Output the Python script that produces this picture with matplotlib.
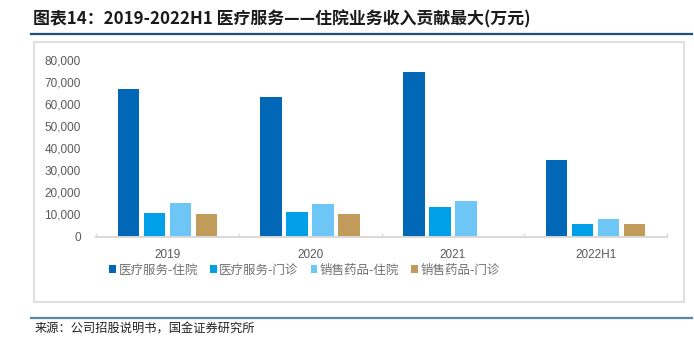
import numpy as np
import matplotlib
matplotlib.use("Agg")
import matplotlib.pyplot as plt
from matplotlib.lines import Line2D
from matplotlib.patches import Rectangle
from matplotlib.ticker import FuncFormatter

plt.rcParams["font.family"] = ["Liberation Sans", "Noto Sans CJK SC", "DejaVu Sans"]

# data (万元)
years = ["2019", "2020", "2021", "2022H1"]
series_names = ["医疗服务-住院", "医疗服务-门诊", "销售药品-住院", "销售药品-门诊"]
med_inpatient = [66900, 63100, 74700, 34700]
med_outpatient = [10700, 11100, 13400, 5700]
drug_inpatient = [15200, 14900, 16000, 7800]
drug_outpatient = [10200, 10000, np.nan, 5700]   # 2021 not shown
colors = ["#0068B7", "#00A0E9", "#6DC6F5", "#C19B5A"]

CJK = ["Noto Sans CJK SC", "DejaVu Sans"]
GREY = "#595959"

fig = plt.figure(figsize=(6.94, 3.43), dpi=100)

# frame around chart block, title rule and source rule
fig.add_artist(Rectangle((34 / 694, 1 - 302 / 343), 650 / 694, 260 / 343,
                         transform=fig.transFigure, fill=False, ec="#D9D9D9", lw=1.2))
fig.add_artist(Line2D([31 / 694, 692 / 694], [1 - 33.5 / 343] * 2,
                      transform=fig.transFigure, color="#1F4E79", lw=1.6))
fig.add_artist(Line2D([31 / 694, 692 / 694], [1 - 317.5 / 343] * 2,
                      transform=fig.transFigure, color="#5A87A5", lw=1.6))

fig.text(33 / 694, 1 - 19.5 / 343,
         "图表14：2019-2022H1 医疗服务——住院业务收入贡献最大(万元)",
         family=CJK, fontsize=12.2, weight="bold", style="italic",
         color="#1A1A1A", ha="left", va="center")
fig.text(35 / 694, 1 - 329.5 / 343, "来源：公司招股说明书，国金证券研究所",
         family=CJK, fontsize=8.8, color="#222222", ha="left", va="center")

ax = fig.add_axes([96 / 694, 1 - 236.5 / 343, 571 / 694, 176.5 / 343])
x = np.arange(len(years))
width = 0.15
pitch = 0.182
all_series = [med_inpatient, med_outpatient, drug_inpatient, drug_outpatient]
handles = []
for i, (vals, name, c) in enumerate(zip(all_series, series_names, colors)):
    b = ax.bar(x + (i - 1.5) * pitch, vals, width, color=c, label=name)
    handles.append(b)

ax.set_xlim(-0.5, len(years) - 0.5)
ax.set_ylim(0, 80000)
ax.set_yticks(np.arange(0, 80001, 10000))
ax.yaxis.set_major_formatter(FuncFormatter(lambda v, p: f"{v:,.0f}"))
ax.set_xticks(x)
ax.set_xticklabels(years)
ax.set_xticks(np.arange(-0.5, len(years)), minor=True)
ax.tick_params(axis="y", length=0, pad=11, labelsize=8.5, labelcolor=GREY)
ax.tick_params(axis="x", which="major", length=0, pad=9, labelsize=8.5, labelcolor=GREY)
ax.tick_params(axis="x", which="minor", direction="in", length=3, color="#D9D9D9", width=1)
for s in ["top", "right", "left"]:
    ax.spines[s].set_visible(False)
ax.spines["bottom"].set_color("#D9D9D9")
ax.spines["bottom"].set_linewidth(1.4)

leg = fig.legend(handles=handles, labels=series_names, loc="center left",
                 bbox_to_anchor=(98 / 694, 1 - 270 / 343), ncol=4, frameon=False,
                 handlelength=0.55, handleheight=0.55, handletextpad=0.2,
                 columnspacing=0.95, prop={"family": CJK, "size": 9})
for t in leg.get_texts():
    t.set_color("#707070")

fig.savefig("out.png", dpi=100)
